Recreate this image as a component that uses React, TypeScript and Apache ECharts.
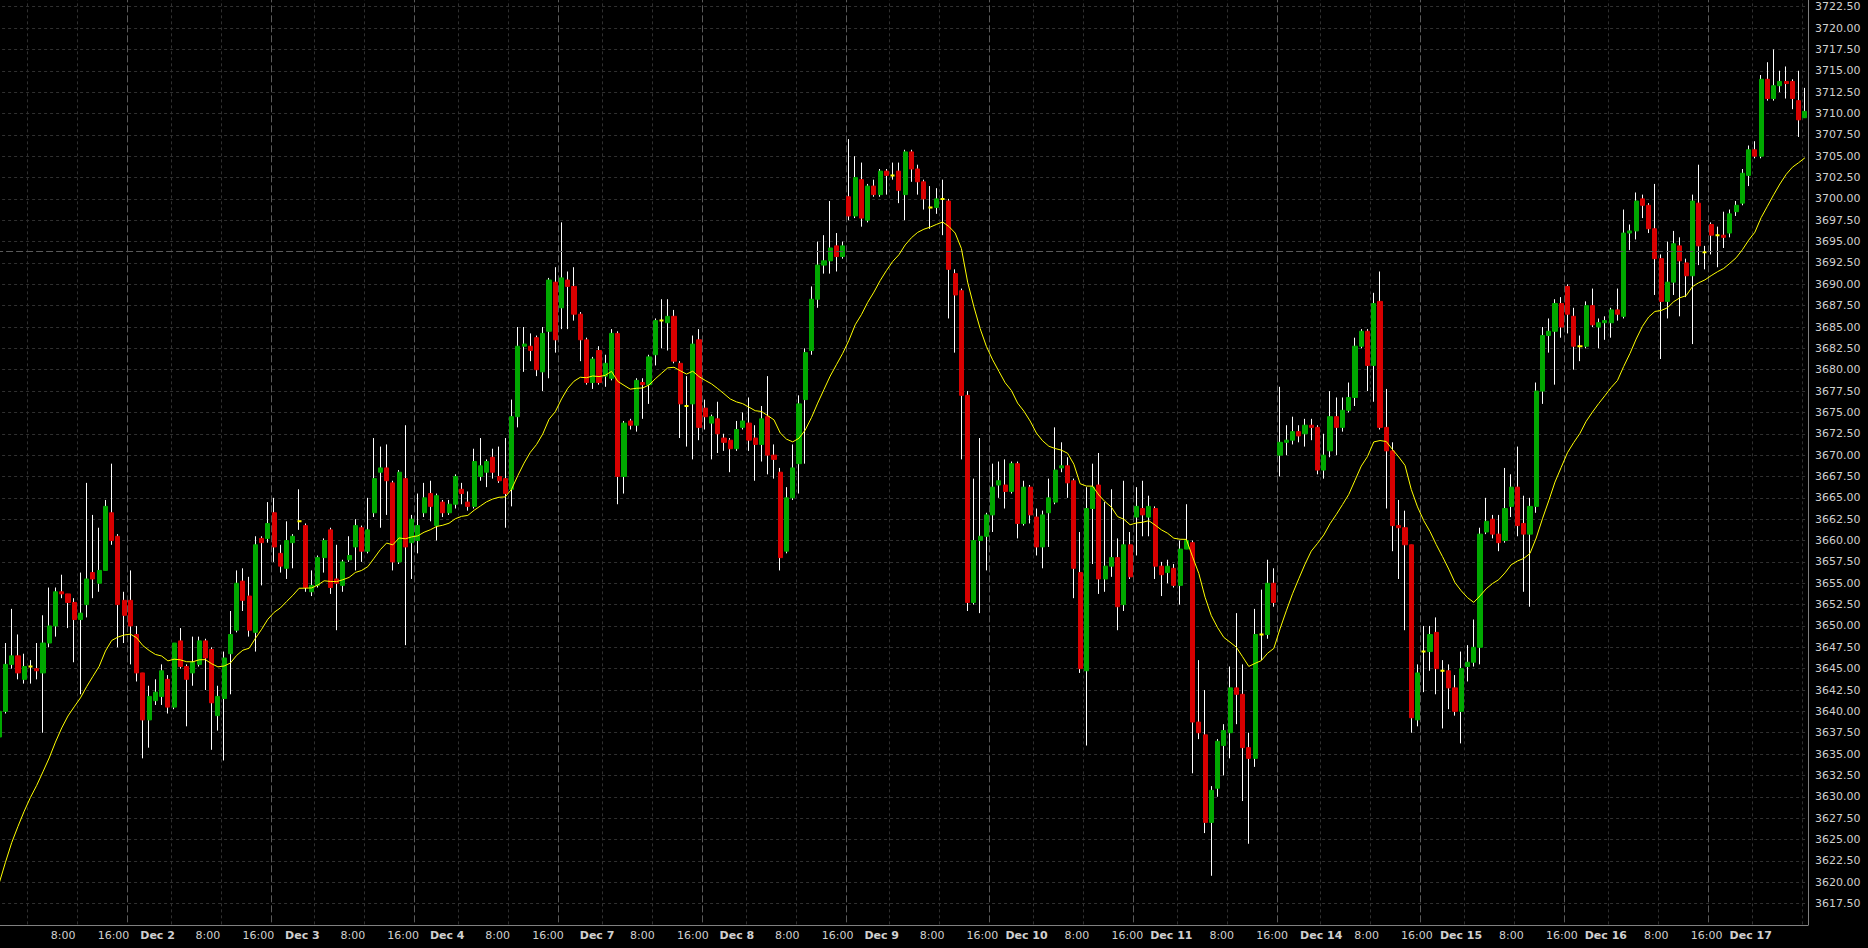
import React, { useEffect, useRef } from "react";
import * as echarts from "echarts";

// Trading sessions (CT): [evening date, morning date, first hour, last hour]
const SESSIONS: [string, string, number, number][] = [
  ["11-30", "12-01", 19, 15],
  ["12-01", "12-02", 17, 15],
  ["12-02", "12-03", 17, 15],
  ["12-03", "12-04", 17, 15],
  ["12-06", "12-07", 17, 15],
  ["12-07", "12-08", 17, 15],
  ["12-08", "12-09", 17, 15],
  ["12-09", "12-10", 17, 15],
  ["12-10", "12-11", 17, 15],
  ["12-13", "12-14", 17, 15],
  ["12-14", "12-15", 17, 15],
  ["12-15", "12-16", 17, 15],
  ["12-16", "12-17", 17, 8],
];

const OPEN = [
  3637, 3640, 3645.5, 3646.5, 3643.75, 3645.25, 3645, 3644.5, 3648, 3650,
  3654, 3653.75, 3652.75, 3650.75, 3652.5, 3656.25, 3655, 3656.5, 3663.25, 3660.5,
  3653, 3653, 3649, 3644.5, 3639, 3641.25, 3641.75, 3643.75, 3640.5, 3648.25,
  3645.25, 3644.5, 3645.5, 3648.25, 3647.25, 3639.5, 3641.5, 3646.75, 3649.5, 3655.25,
  3653.5, 3649.25, 3660.25, 3660.25, 3663.25, 3658.5, 3656.75, 3659.75, 3662.25, 3661.75,
  3654, 3654.75, 3658, 3661.25, 3655.5, 3654.75, 3657.75, 3659.25, 3661.5, 3658.75,
  3663.25, 3668, 3668.5, 3666.75, 3657.5, 3667.25, 3659.75, 3660, 3663.25, 3665.5,
  3661.75, 3664.5, 3663.25, 3664.25, 3666, 3664.5, 3664, 3667.5, 3668, 3669.75,
  3667.5, 3667.25, 3666, 3674.5, 3682.75, 3682.75, 3683.75, 3679.75, 3684.5, 3690.25,
  3687.25, 3690.5, 3689.75, 3686.5, 3683.5, 3678.5, 3682.25, 3679.25, 3679, 3684.25,
  3667.5, 3674, 3673.5, 3678.5, 3678.25, 3681.75, 3685.75, 3685.5, 3686.25, 3680.75,
  3675.75, 3676, 3683.5, 3675.5, 3673.75, 3674.25, 3672, 3671.75, 3670.75, 3673.25,
  3673.75, 3672, 3671.25, 3674.5, 3670, 3668, 3658.75, 3665, 3669, 3676.5,
  3682.25, 3688.25, 3692.25, 3692.75, 3694.5, 3693.25, 3700.25, 3698, 3702.25, 3697.5,
  3701.5, 3700.5, 3703.25, 3702.75, 3703.25, 3700.5, 3705.5, 3703.5, 3702, 3699,
  3699, 3700, 3699.75, 3691.25, 3689.25, 3677, 3652.75, 3660, 3660.5, 3663,
  3666.5, 3666.5, 3665.75, 3669, 3662, 3666.25, 3662.75, 3659.25, 3663.25, 3664.5,
  3668.5, 3668.75, 3667, 3656.25, 3644.75, 3663.75, 3666.5, 3655.5, 3657, 3658,
  3652.5, 3659.5, 3662.75, 3663.75, 3662.75, 3663.75, 3657, 3656.25, 3656.75, 3654.75,
  3659, 3659.75, 3638.75, 3637.25, 3627, 3631, 3636, 3637.5, 3642.75, 3642,
  3635.75, 3634.5, 3649, 3649, 3655, 3670, 3671.5, 3671.75, 3672.75, 3672.5,
  3673.5, 3673.25, 3668.25, 3670.5, 3674.5, 3673.25, 3675.25, 3676.75, 3682.75, 3684.5,
  3680.5, 3688, 3673.25, 3670.5, 3661.75, 3661.5, 3659.5, 3639, 3647, 3647,
  3649.25, 3644.75, 3644.75, 3642.75, 3640, 3645.25, 3645.75, 3647.5, 3661, 3662.5,
  3660.75, 3660, 3664, 3666.25, 3662, 3660.75, 3664, 3677.5, 3684, 3684.5,
  3687.75, 3689.75, 3686.25, 3682.75, 3682.75, 3687.5, 3685, 3685.5, 3685.5, 3687,
  3686.25, 3696, 3696.25, 3700, 3699.25, 3696.5, 3693, 3688, 3690.25, 3694.5,
  3692.5, 3691, 3699.5, 3693.75, 3697, 3695.75, 3695.75, 3696, 3698.5, 3699.5,
  3702.75, 3705.75, 3705, 3714, 3711.75, 3713.25, 3713.75, 3713.75, 3711.5, 3709.5,
];

const CLOSE = [
  3640, 3645.5, 3646.5, 3644.5, 3645.25, 3645.25, 3644.75, 3648, 3650, 3654,
  3653.75, 3652.75, 3650.75, 3651.5, 3655.5, 3655.5, 3656.5, 3664, 3660, 3652.5,
  3651.25, 3650, 3644.5, 3639, 3641.75, 3642.25, 3644.75, 3640.5, 3648, 3645.25,
  3643.75, 3645.75, 3648.25, 3646.25, 3641, 3641.75, 3646.25, 3649, 3655, 3653,
  3649.5, 3659.5, 3659.75, 3662, 3659.25, 3657, 3660, 3660.5, 3662.25, 3654.5,
  3654.75, 3658, 3660, 3654.5, 3655, 3657.5, 3658.25, 3661.75, 3658.75, 3661.25,
  3667.25, 3668.5, 3667, 3657.5, 3668, 3659.25, 3662.5, 3661.75, 3665, 3664,
  3665.25, 3663.25, 3664.25, 3667.5, 3665.5, 3664, 3669.25, 3668.75, 3669.25, 3668,
  3667, 3665.5, 3674.5, 3682.75, 3683, 3682.25, 3680, 3684.25, 3690.5, 3683.5,
  3690.75, 3689.75, 3686.5, 3683.5, 3678.5, 3681.25, 3678.5, 3680.75, 3684.25, 3667.5,
  3673.75, 3673.5, 3678.75, 3678.25, 3681.5, 3685.75, 3685.75, 3686.25, 3681, 3676,
  3675.75, 3683, 3673.25, 3674.5, 3674.5, 3672.5, 3671.5, 3670.75, 3673, 3674,
  3671.75, 3671.25, 3674.25, 3670, 3669.5, 3658, 3665, 3668.5, 3676, 3682,
  3688.25, 3692.25, 3692.75, 3694.25, 3693.25, 3694.5, 3698, 3702.5, 3697.75, 3701.5,
  3700.5, 3703.25, 3702.75, 3702.75, 3701, 3705.5, 3703.5, 3702, 3700, 3699,
  3700, 3700, 3691.75, 3688.75, 3677, 3652.75, 3660, 3660.5, 3663, 3666.25,
  3667, 3665.75, 3669, 3662, 3666.25, 3663, 3659.25, 3663, 3665, 3668.25,
  3668.75, 3666.75, 3656.75, 3645, 3663.75, 3666.25, 3655.5, 3657, 3658, 3652.25,
  3659.5, 3655.75, 3664, 3663, 3664, 3657, 3656, 3657, 3654.75, 3659,
  3660, 3638.75, 3637.5, 3627, 3630.75, 3636.5, 3637.75, 3642.75, 3642, 3635.75,
  3634.5, 3649, 3649, 3655, 3652.75, 3671.5, 3671.75, 3672.75, 3672.25, 3673.5,
  3673.25, 3668.25, 3670, 3674.5, 3673.25, 3675.25, 3676.75, 3682.75, 3684.5, 3680.5,
  3687.75, 3673.25, 3670.5, 3661.75, 3661.5, 3659.5, 3639.25, 3644.5, 3647, 3649,
  3645, 3644.75, 3642.75, 3640, 3645, 3645.75, 3647.5, 3660.75, 3662.25, 3660.75,
  3659.75, 3663.75, 3666.25, 3661.75, 3660.75, 3664, 3677.5, 3684, 3684.5, 3687.75,
  3685, 3686.5, 3682.75, 3682.75, 3687.5, 3685.25, 3685.5, 3685.75, 3687, 3686.5,
  3696, 3696.25, 3699.75, 3699.25, 3696.5, 3693, 3688, 3690.25, 3694.75, 3692.75,
  3691, 3699.75, 3694.5, 3693.75, 3695.75, 3695.75, 3695.5, 3698.25, 3699.25, 3703,
  3705.75, 3705, 3714, 3711.75, 3713.25, 3713.75, 3713.5, 3711.75, 3709.25, 3710.25,
];

const LOW = [
  3636.5, 3639.75, 3645, 3643.75, 3643.25, 3643.25, 3643.75, 3637.5, 3647.5, 3648.75,
  3653.25, 3649.75, 3645.75, 3642, 3651, 3653.25, 3654, 3656.5, 3659.5, 3647.5,
  3648, 3645.5, 3643.5, 3634.5, 3635.75, 3640.75, 3640.75, 3639.75, 3640.25, 3645,
  3638.25, 3643, 3645.25, 3642.5, 3635.5, 3637.75, 3634.25, 3642, 3649.25, 3651.75,
  3648.75, 3647, 3654.75, 3659.75, 3657.5, 3656.25, 3655.5, 3656.75, 3661.25, 3654,
  3653.5, 3654.5, 3656.25, 3653.75, 3649.5, 3654, 3657.5, 3656.5, 3657.5, 3658.5,
  3662.75, 3661.5, 3663, 3656.5, 3657.25, 3647.75, 3655.5, 3658.5, 3662.75, 3662.25,
  3660, 3662.75, 3663, 3663.75, 3664.25, 3663.5, 3663.75, 3667, 3666.25, 3667.25,
  3666.75, 3661.5, 3664, 3673.25, 3679.75, 3681, 3679.25, 3677.5, 3679, 3682,
  3684.75, 3684.75, 3685.75, 3681, 3678.25, 3677.75, 3678.25, 3678, 3678.75, 3664.25,
  3665.5, 3673, 3672.75, 3674.25, 3676, 3680.5, 3682.5, 3682.25, 3680.75, 3672,
  3671, 3669.5, 3671.75, 3673, 3669.5, 3670.25, 3670.5, 3668, 3670.5, 3673,
  3670.5, 3667, 3669.25, 3667.75, 3667.25, 3656.5, 3658.5, 3664.75, 3665.5, 3669,
  3681.75, 3687.25, 3691.25, 3691.25, 3691.5, 3693, 3697.5, 3697.75, 3696.75, 3697.25,
  3700.25, 3700.25, 3700.5, 3702.25, 3699.5, 3697.5, 3702, 3700.5, 3698.75, 3696.5,
  3698.25, 3695.75, 3686, 3682, 3669.5, 3651.75, 3652.5, 3651.5, 3656.5, 3661,
  3665, 3663.75, 3665.5, 3660.25, 3661.75, 3662, 3658.25, 3656.75, 3659.25, 3664.25,
  3668, 3665, 3653.25, 3644.5, 3636, 3657.25, 3653.75, 3654, 3655.75, 3649.5,
  3651.75, 3655.5, 3658.25, 3660.5, 3660.5, 3655.5, 3653.5, 3655, 3654.5, 3652.5,
  3659, 3632.75, 3636.75, 3625.75, 3620.75, 3630, 3632.5, 3634.5, 3638.5, 3629.5,
  3624.5, 3633.5, 3646, 3648.5, 3652.25, 3667.5, 3670, 3671.25, 3671.5, 3671,
  3671.75, 3667.75, 3667.25, 3669.75, 3670, 3672.75, 3675, 3675.75, 3682.5, 3677.5,
  3676.25, 3673, 3663.75, 3658.75, 3655.5, 3649.5, 3637.5, 3638.25, 3642.25, 3644.75,
  3642, 3638, 3640.25, 3639.5, 3636.25, 3643.5, 3645.25, 3645.5, 3660.75, 3660.25,
  3658.75, 3659.75, 3662.75, 3660.5, 3654, 3652.25, 3663.25, 3676, 3682, 3678.25,
  3683.75, 3684.25, 3680, 3681, 3682.5, 3685, 3682.5, 3683.5, 3683.75, 3685.75,
  3686, 3694, 3695.25, 3697.75, 3696, 3688.75, 3681.25, 3686, 3688.75, 3686.25,
  3688.5, 3683, 3692.25, 3691.75, 3693.5, 3692, 3694.25, 3695.5, 3698, 3699.25,
  3701.5, 3704.75, 3704.75, 3711.5, 3711.5, 3712.5, 3711.75, 3710.5, 3707.25, 3709.5,
];

const HIGH = [
  3640.5, 3648, 3652, 3649, 3646.75, 3646, 3648, 3651.25, 3654.5, 3654.5,
  3656, 3653.75, 3653.25, 3656.25, 3666.75, 3663, 3661.5, 3664.75, 3669, 3660.75,
  3654, 3656.5, 3650, 3644.5, 3643, 3643.75, 3645.5, 3644.25, 3648, 3649.75,
  3645.5, 3648.75, 3648.75, 3648.5, 3647.5, 3643, 3647, 3651.75, 3656.5, 3656.75,
  3655.75, 3660.5, 3660.5, 3664.5, 3665, 3659.5, 3662.25, 3660.75, 3666, 3662,
  3656.5, 3658.25, 3660.25, 3661.5, 3659.5, 3657.75, 3660.5, 3662.5, 3661.75, 3665,
  3672, 3671, 3671.25, 3667, 3668.25, 3673.5, 3663, 3665.5, 3666.75, 3667,
  3665.5, 3664.75, 3664.75, 3667.75, 3666.75, 3665.75, 3670.75, 3672, 3669.5, 3670.75,
  3671, 3672, 3676.5, 3685, 3685, 3684.25, 3684, 3685, 3690.75, 3692,
  3697.25, 3691.5, 3692, 3686.75, 3683.75, 3681.5, 3682.75, 3681.75, 3684.75, 3684.5,
  3674, 3674.25, 3679, 3679, 3681.75, 3686, 3688.25, 3688.25, 3687, 3681,
  3679.25, 3684, 3684.75, 3676.5, 3674.75, 3676.25, 3672.5, 3672, 3674, 3675,
  3676.75, 3673.5, 3675.75, 3679.25, 3671.25, 3668.5, 3666.25, 3671.25, 3677, 3682.5,
  3689.75, 3695, 3695.75, 3699.75, 3696, 3695, 3707, 3705, 3704.25, 3701.75,
  3702.25, 3703.5, 3703.5, 3704.25, 3704.25, 3705.75, 3705.75, 3704, 3702.25, 3701.5,
  3701.25, 3702.25, 3700, 3691.75, 3689.5, 3677.5, 3667.25, 3672, 3663.25, 3669,
  3669.25, 3669.5, 3669.25, 3669.25, 3667, 3666.5, 3663.75, 3663.5, 3667.25, 3673.25,
  3671.5, 3669.75, 3667.25, 3661, 3666.25, 3669, 3670.25, 3664.5, 3666, 3660.25,
  3667, 3661, 3666.25, 3667, 3665.25, 3664, 3657.5, 3657.75, 3657.25, 3660,
  3664.25, 3660, 3646, 3642.5, 3631.25, 3636.75, 3638.5, 3645.25, 3651.5, 3645.5,
  3637.5, 3652, 3654.25, 3657.75, 3656.75, 3678, 3673.5, 3674.5, 3673.5, 3674.25,
  3674.25, 3673.5, 3672.5, 3677.5, 3676.75, 3676.75, 3678.5, 3683.75, 3684.75, 3684.75,
  3689, 3691.5, 3677.75, 3671.5, 3664.75, 3663.5, 3659.5, 3645.5, 3650, 3650,
  3651, 3646, 3645.5, 3644.25, 3647, 3647.75, 3650.75, 3661.5, 3665, 3663,
  3663, 3668.5, 3667.75, 3671, 3665.25, 3665, 3678.5, 3685, 3686, 3688.25,
  3688.5, 3690, 3687.25, 3684, 3688, 3689.5, 3686, 3686.25, 3687.25, 3689.5,
  3698.75, 3697, 3700.75, 3700.5, 3699.5, 3701.75, 3693.5, 3695, 3696.25, 3695.5,
  3693, 3700.5, 3704, 3694.5, 3697.25, 3696.75, 3698.5, 3698.75, 3699.75, 3703.5,
  3706.25, 3706.75, 3714.5, 3716, 3717.5, 3715, 3715.5, 3714, 3715, 3713,
];

const MA_PERIOD = 20;
const MA_START = 3619.9;
// Horizontal dashed price line
const PRICE_LINE = 3693.85;

const Y_MIN = 3615;
const Y_MAX = 3725;
const Y_STEP = 2.5;

const MONTH: Record<string, string> = { "11": "Nov", "12": "Dec" };

const UP = "#00a800";
const DOWN = "#d80000";
const DOJI = "#ffff00";
const TEXT = "#d0d0d0";
const FONT = "DejaVu Sans";

// Time-label placement as seen in the reference: labels drift slightly left of
// their grid line towards the start of the chart (px, at first / last label index)
const LABEL_SHIFT_FIRST = -14.2;
const LABEL_SHIFT_LAST = -1.1;
const LABEL_FIRST_IDX = 13;
const LABEL_LAST_IDX = 281;
const MONDAY_DATE_SHIFT = 5; // date labels after a weekend sit a bit further right
const HALF_BAND = 3.124;

function buildCategories(): string[] {
  const out: string[] = [];
  const hh = (h: number) => String(h).padStart(2, "0") + ":00";
  for (const [eve, morn, h0, h1] of SESSIONS) {
    for (let h = h0; h <= 23; h++) out.push(`2020-${eve} ${hh(h)}`);
    for (let h = 0; h <= h1; h++) out.push(`2020-${morn} ${hh(h)}`);
  }
  return out;
}

const hourOf = (c: string) => parseInt(c.slice(11, 13), 10);

export default function App() {
  const ref = useRef<HTMLDivElement>(null);

  useEffect(() => {
    if (!ref.current) return;
    const chart = echarts.init(ref.current, undefined, { renderer: "svg" });

    const cats = buildCategories();
    const n = cats.length;

    const labelMap: Record<string, string> = {};
    const rich: Record<string, any> = {};
    cats.forEach((c, i) => {
      let t = "";
      let bold = false;
      let monday = false;
      if (i >= 6 && i < n - 1) {
        const prev = cats[i - 1];
        const ph = hourOf(prev);
        if (ph === 23) {
          t = `${MONTH[c.slice(5, 7)]} ${parseInt(c.slice(8, 10), 10)}`;
          bold = true;
          monday = prev.slice(5, 10) !== c.slice(5, 10) && hourOf(cats[i - 7]) !== 15 ? false : false;
          // session started on a Sunday: previous calendar day differs by more than one
          const dPrev = parseInt(prev.slice(8, 10), 10);
          const sessStart = cats[i - 7];
          const dStart = parseInt(sessStart.slice(8, 10), 10);
          const beforeStart = cats[i - 8];
          if (beforeStart) {
            const dBefore = parseInt(beforeStart.slice(8, 10), 10);
            monday = dStart - dBefore > 1 && dPrev === dStart;
          }
        } else if (ph === 7) t = "8:00";
        else if (ph === 15) t = "16:00";
      }
      if (t) {
        const f = (i - LABEL_FIRST_IDX) / (LABEL_LAST_IDX - LABEL_FIRST_IDX);
        let shift = LABEL_SHIFT_FIRST + f * (LABEL_SHIFT_LAST - LABEL_SHIFT_FIRST);
        if (monday) shift += MONDAY_DATE_SHIFT;
        const off = -HALF_BAND + shift;
        const pad = off < 0 ? [0, -2 * off, 0, 0] : [0, 0, 0, 2 * off];
        const key = `s${i}`;
        rich[key] = {
          color: TEXT,
          fontSize: 11,
          fontFamily: FONT,
          fontWeight: bold ? "bold" : "normal",
          padding: pad,
        };
        labelMap[c] = `{${key}|${t}}`;
      } else {
        labelMap[c] = "";
      }
    });

    const alpha = 2 / (MA_PERIOD + 1);
    let e = MA_START;
    const ma = CLOSE.map((c, i) => {
      if (i > 0) e = e + alpha * (c - e);
      return Math.round(e * 1000) / 1000;
    });

    const wickData = OPEN.map((o, i) => [o, CLOSE[i], LOW[i], HIGH[i]]);
    const bodyData = OPEN.map((o, i) => {
      const c = CLOSE[i];
      const col = c > o ? UP : c < o ? DOWN : DOJI;
      return {
        value: [o, c, Math.min(o, c), Math.max(o, c)],
        itemStyle: {
          color: col,
          color0: col,
          borderColor: col,
          borderColor0: col,
          borderColorDoji: col,
          borderWidth: c === o ? 2 : 1,
        },
      };
    });

    const option: any = {
      animation: false,
      backgroundColor: "#000000",
      grid: {
        left: 0.1,
        right: 60,
        top: 0.35,
        bottom: 23.1,
        containLabel: false,
        outerBoundsMode: "none",
      },
      xAxis: [
        {
          type: "category",
          data: cats,
          boundaryGap: true,
          axisLine: { show: true, lineStyle: { color: "#808080", width: 1 } },
          axisTick: { show: false },
          axisLabel: {
            interval: (_i: number, v: string) => labelMap[v] !== "",
            formatter: (v: string) => labelMap[v],
            align: "center",
            color: TEXT,
            fontSize: 11,
            fontFamily: FONT,
            margin: 5,
            rich,
          },
          splitLine: {
            show: true,
            interval: (i: number) => {
              const h = hourOf(cats[i]);
              return h === 0 || h === 8;
            },
            lineStyle: { color: "#303030", type: [3, 3], width: 1 },
          },
        },
        {
          type: "category",
          data: cats,
          boundaryGap: true,
          position: "bottom",
          axisLine: { show: false },
          axisTick: { show: false },
          axisLabel: { show: false },
          splitLine: {
            show: true,
            interval: (i: number) => i > 0 && hourOf(cats[i]) === 17,
            lineStyle: { color: "#5a5a5a", type: [7, 3], width: 1 },
          },
        },
      ],
      yAxis: {
        type: "value",
        position: "right",
        min: Y_MIN,
        max: Y_MAX,
        interval: Y_STEP,
        axisLine: { show: true, lineStyle: { color: "#808080", width: 1 } },
        axisTick: { show: false },
        axisLabel: {
          formatter: (v: number) => v.toFixed(2),
          color: TEXT,
          fontSize: 11,
          fontFamily: FONT,
          margin: 7,
          showMinLabel: false,
          showMaxLabel: false,
        },
        splitLine: { show: true, lineStyle: { color: "#303030", type: [3, 3], width: 1 } },
      },
      series: [
        {
          type: "candlestick",
          name: "wicks",
          data: wickData,
          barWidth: 1,
          silent: true,
          itemStyle: {
            color: "#ffffff",
            color0: "#ffffff",
            borderColor: "#ffffff",
            borderColor0: "#ffffff",
            borderColorDoji: "#ffffff",
            borderWidth: 1,
          },
        },
        {
          type: "candlestick",
          name: "bodies",
          data: bodyData,
          barWidth: 4.6,
          silent: true,
          markLine: {
            silent: true,
            symbol: ["none", "none"],
            label: { show: false },
            lineStyle: { color: "#5a5a5a", type: [7, 3], width: 1 },
            data: [{ yAxis: PRICE_LINE }],
          },
        },
        {
          type: "line",
          name: "MA",
          data: ma,
          showSymbol: false,
          symbol: "none",
          silent: true,
          lineStyle: { color: "#ffff00", width: 1 },
          z: 5,
        },
      ],
    };

    chart.setOption(option);
    return () => chart.dispose();
  }, []);

  // Shifted so the first candle is cut by the page edge, as in the reference
  return (
    <div
      ref={ref}
      style={{ position: "fixed", left: -4, top: -15, width: 1872, height: 963, background: "#000" }}
    />
  );
}
